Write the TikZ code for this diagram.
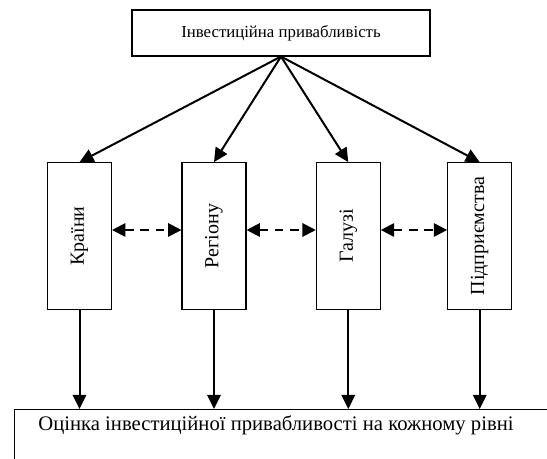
\documentclass[tikz,border=0pt]{standalone}
\usepackage{fontspec}
\setmainfont{Liberation Serif}
\usetikzlibrary{arrows.meta}
\tikzset{
  box/.style={draw, line width=0.8pt, inner sep=0pt},
  lvl/.style={box, minimum width=48pt, minimum height=110pt},
  vtext/.style={rotate=90, font=\fontsize{15}{18}\selectfont},
  tip/.style={-{Triangle[length=10.5pt,width=10pt]}, line width=1.5pt},
  both/.style={{Triangle[length=10pt,width=10pt]}-{Triangle[length=10pt,width=10pt]}, line width=1.5pt, dash pattern=on 6.5pt off 5pt}
}
\begin{document}
\begin{tikzpicture}[x=0.75pt,y=-0.75pt]
        \useasboundingbox (0,0) rectangle (547,459);
        \node[box, minimum width=223.5pt, minimum height=34.5pt, font=\fontsize{12.6}{15}\selectfont] (top) at (281,33) {Інвестиційна привабливість};
        \node[lvl, label={[vtext]center:Країни}] (v1) at (79.5,236) {};
        \node[lvl, label={[vtext]center:Регіону}] (v2) at (214,236) {};
        \node[lvl, label={[vtext]center:Галузі}] (v3) at (348.3,236) {};
        \node[lvl, label={[vtext]center:Підприємства}] (v4) at (479.7,236) {};
        \node[box, anchor=north west, minimum width=420pt, minimum height=45pt] (bot) at (14,409) {};
        \node[font=\fontsize{15.5}{18}\selectfont] (bottext) at (276,425) {Оцінка інвестиційної привабливості на кожному рівні};
        \draw[tip] (top.south) -- (v1.north);
        \draw[tip] (top.south) -- (v2.north);
        \draw[tip] (top.south) -- (v3.north);
        \draw[tip] (top.south) -- (v4.north);
        \draw[both] ([yshift=4.5pt]v1.east) -- ([yshift=4.5pt]v2.west);
        \draw[both] ([yshift=4.5pt]v2.east) -- ([yshift=4.5pt]v3.west);
        \draw[both] ([yshift=4.5pt]v3.east) -- ([yshift=4.5pt]v4.west);
        \draw[tip] (v1.south) -- (v1.south |- bot.north);
        \draw[tip] (v2.south) -- (v2.south |- bot.north);
        \draw[tip] (v3.south) -- (v3.south |- bot.north);
        \draw[tip] (v4.south) -- (v4.south |- bot.north);
\end{tikzpicture}
\end{document}
